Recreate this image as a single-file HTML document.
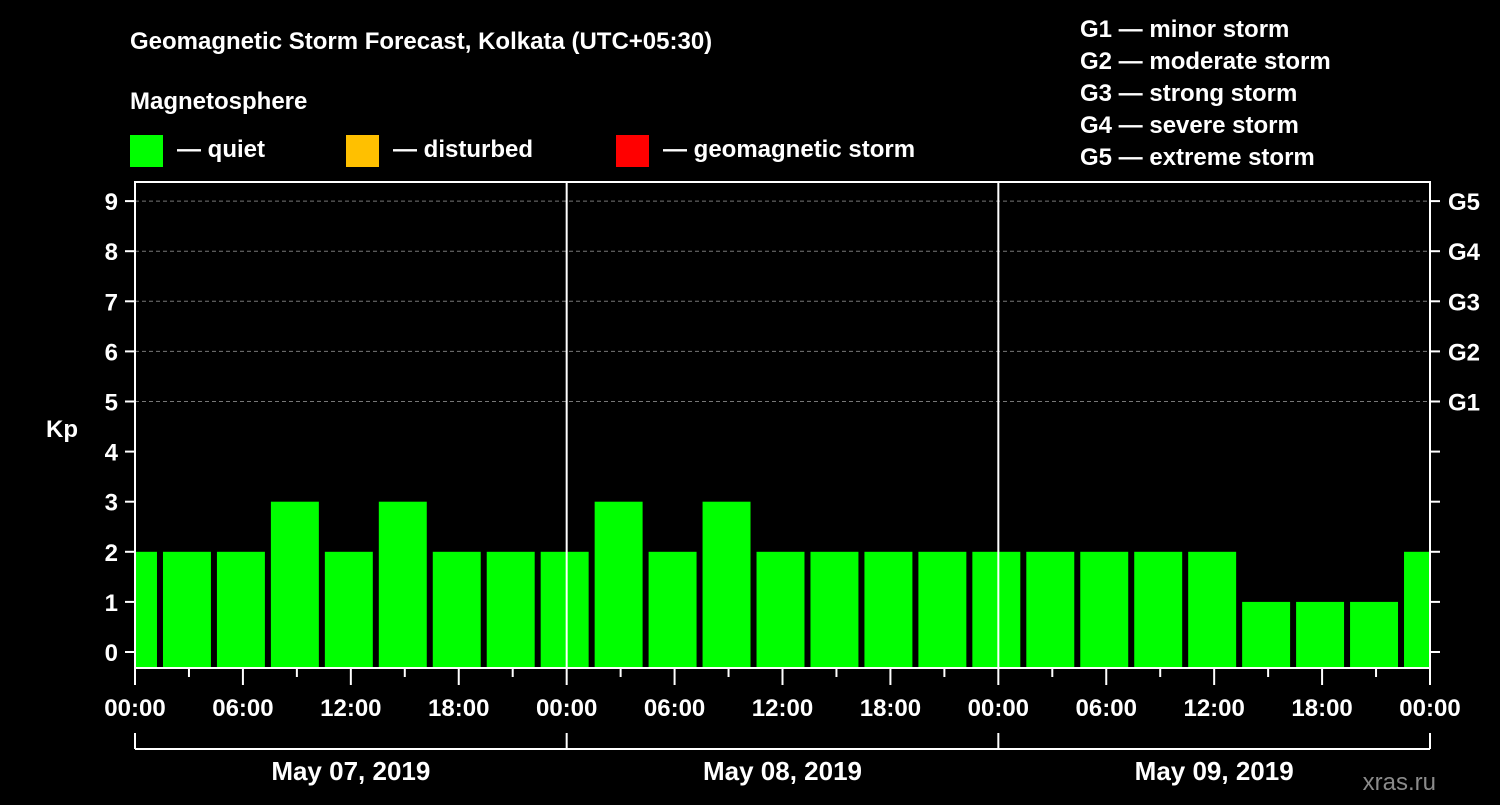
<!DOCTYPE html>
<html><head><meta charset="utf-8"><style>
body{margin:0;background:#000;width:1500px;height:800px;overflow:hidden;font-family:"Liberation Sans",sans-serif}
svg text{font-family:"Liberation Sans",sans-serif;font-weight:bold;fill:#fff}
</style></head><body>
<svg width="1500" height="800" id="c">
<text x="130" y="49" font-size="24">Geomagnetic Storm Forecast, Kolkata (UTC+05:30)</text>
<text x="130" y="109" font-size="24">Magnetosphere</text>
<g><rect x="130" y="135" width="33" height="32" fill="#00ff00"/><text x="177" y="157" font-size="24">— quiet</text></g>
<g><rect x="346" y="135" width="33" height="32" fill="#ffc000"/><text x="393" y="157" font-size="24">— disturbed</text></g>
<g><rect x="616" y="135" width="33" height="32" fill="#ff0000"/><text x="663" y="157" font-size="24">— geomagnetic storm</text></g>
<g font-size="24">
<text x="1080" y="37">G1 — minor storm</text>
<text x="1080" y="69">G2 — moderate storm</text>
<text x="1080" y="101">G3 — strong storm</text>
<text x="1080" y="133">G4 — severe storm</text>
<text x="1080" y="165">G5 — extreme storm</text>
</g>
<text x="62" y="437" font-size="24" text-anchor="middle">Kp</text>
<text x="1436" y="790" font-size="24" text-anchor="end" fill="#888" style="fill:#8a8a8a;font-weight:normal">xras.ru</text>
<g id="grid"></g><g id="bars"></g><g id="axes"></g>
</svg>
<script>
const kpValues=[2,2,2,3,2,3,2,2,2,3,2,3,2,2,2,2,2,2,2,2,2,1,1,1,2];
const yTicks=[0,1,2,3,4,5,6,7,8,9];
const gLabels=["G1","G2","G3","G4","G5"];
const timeLabels=["00:00","06:00","12:00","18:00","00:00","06:00","12:00","18:00","00:00","06:00","12:00","18:00","00:00"];
const dayLabels=["May 07, 2019","May 08, 2019","May 09, 2019"];
const X0=135,X1=1430,TOP=182,BOT=668;
const hx=h=>X0+(X1-X0)*h/72;
const ky=v=>652-50.1*v;
const NS="http://www.w3.org/2000/svg";
function mk(p,t,a){const e=document.createElementNS(NS,t);for(const k in a)e.setAttribute(k,a[k]);p.appendChild(e);return e;}
const grid=document.getElementById('grid'),bars=document.getElementById('bars'),axes=document.getElementById('axes');
// bars: 3h intervals offset by UTC+5:30 (start at -1.5h)
kpValues.forEach((v,i)=>{
 let s=hx(-1.5+3*i)+1,e=hx(1.5+3*i)-5;
 s=Math.max(s,X0+1);e=Math.min(e,X1-1);
 const col=v>=5?'#ff0000':(v>=4?'#ffc000':'#00ff00');
 const r=mk(bars,'rect',{x:s,y:ky(v),width:e-s,height:BOT-ky(v),fill:col});
 
 
});
yTicks.forEach(v=>{
 const y=ky(v);
 if(v>=5){const l=mk(grid,'line',{x1:X0,x2:X1,y1:y,y2:y,stroke:'#777','stroke-dasharray':'4,3'});
  }
 mk(axes,'line',{x1:X0-10,x2:X0,y1:y,y2:y,stroke:'#fff','stroke-width':2});
 mk(axes,'line',{x1:X1,x2:X1+10,y1:y,y2:y,stroke:'#fff','stroke-width':2});
 const t=mk(axes,'text',{x:X0-17,y:y+9,'font-size':24,'text-anchor':'end'});t.textContent=v;
 
});
gLabels.forEach((g,i)=>{const t=mk(axes,'text',{x:1448,y:ky(5+i)+9,'font-size':24});t.textContent=g;
 });
const frame=mk(axes,'rect',{x:X0,y:TOP,width:X1-X0,height:BOT-TOP,fill:'none',stroke:'#fff','stroke-width':2});

[24,48].forEach(h=>mk(axes,'line',{x1:hx(h),x2:hx(h),y1:TOP,y2:BOT,stroke:'#fff','stroke-width':2}));
for(let h=0;h<=72;h+=3){mk(axes,'line',{x1:hx(h),x2:hx(h),y1:BOT,y2:h%6==0?685:677,stroke:'#fff','stroke-width':2});}
timeLabels.forEach((s,i)=>{const t=mk(axes,'text',{x:hx(6*i),y:716,'font-size':24,'text-anchor':'middle'});t.textContent=s;
 });
mk(axes,'line',{x1:X0,x2:X1,y1:749,y2:749,stroke:'#fff','stroke-width':2});
[0,24,48,72].forEach(h=>mk(axes,'line',{x1:hx(h),x2:hx(h),y1:733,y2:749,stroke:'#fff','stroke-width':2}));
dayLabels.forEach((s,i)=>{const t=mk(axes,'text',{x:hx(24*i+12),y:780,'font-size':26,'text-anchor':'middle'});t.textContent=s;
 });
</script>
</body></html>
